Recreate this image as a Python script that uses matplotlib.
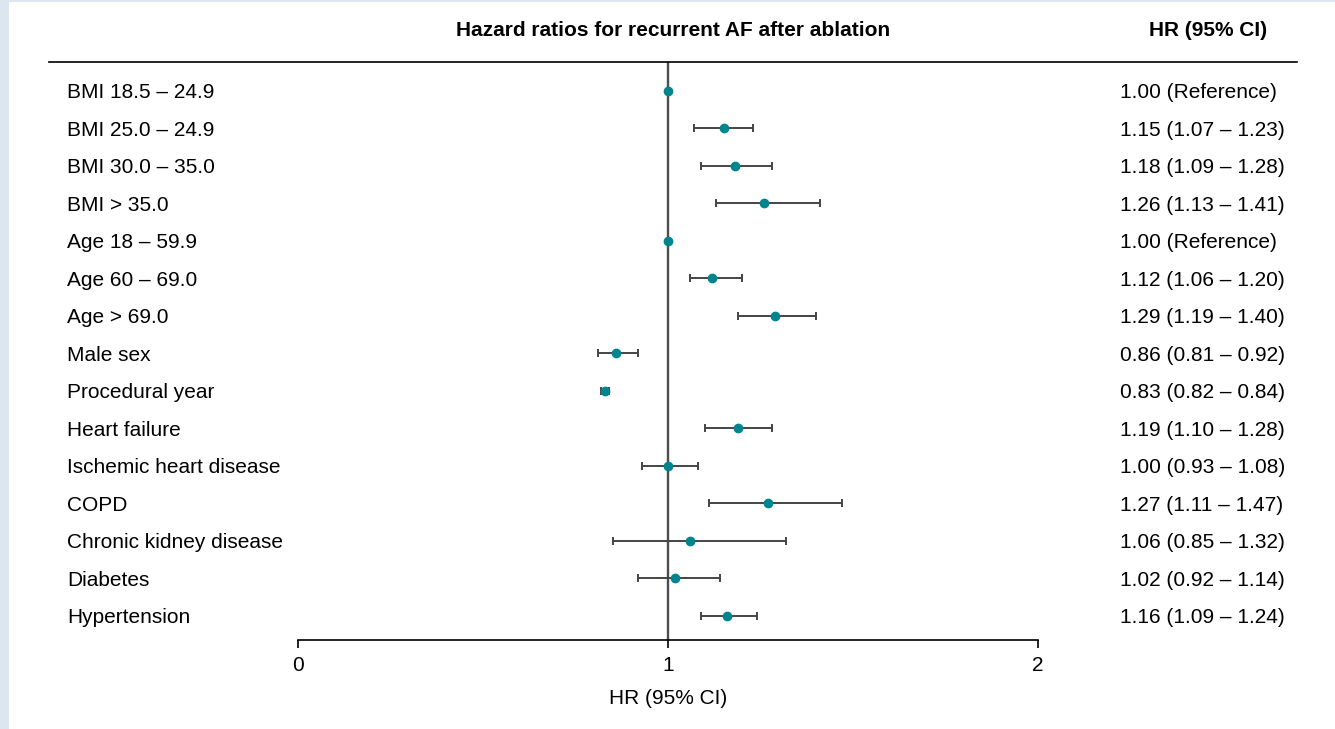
import matplotlib
matplotlib.use("Agg")
import matplotlib.pyplot as plt
from matplotlib.lines import Line2D
from matplotlib.patches import Rectangle
import matplotlib.transforms as mtransforms

plt.rcParams['font.family'] = ['Liberation Sans', 'DejaVu Sans']

# data
labels = [
    'BMI 18.5 – 24.9', 'BMI 25.0 – 24.9', 'BMI 30.0 – 35.0', 'BMI > 35.0',
    'Age 18 – 59.9', 'Age 60 – 69.0', 'Age > 69.0', 'Male sex',
    'Procedural year', 'Heart failure', 'Ischemic heart disease', 'COPD',
    'Chronic kidney disease', 'Diabetes', 'Hypertension'
]
hr = [1.00, 1.15, 1.18, 1.26, 1.00, 1.12, 1.29, 0.86, 0.83, 1.19, 1.00,
      1.27, 1.06, 1.02, 1.16]
ci_low = [None, 1.07, 1.09, 1.13, None, 1.06, 1.19, 0.81, 0.82, 1.10, 0.93,
          1.11, 0.85, 0.92, 1.09]
ci_high = [None, 1.23, 1.28, 1.41, None, 1.20, 1.40, 0.92, 0.84, 1.28, 1.08,
           1.47, 1.32, 1.14, 1.24]
hr_text = [
    '1.00 (Reference)', '1.15 (1.07 – 1.23)', '1.18 (1.09 – 1.28)',
    '1.26 (1.13 – 1.41)', '1.00 (Reference)', '1.12 (1.06 – 1.20)',
    '1.29 (1.19 – 1.40)', '0.86 (0.81 – 0.92)', '0.83 (0.82 – 0.84)',
    '1.19 (1.10 – 1.28)', '1.00 (0.93 – 1.08)', '1.27 (1.11 – 1.47)',
    '1.06 (0.85 – 1.32)', '1.02 (0.92 – 1.14)', '1.16 (1.09 – 1.24)'
]
xticks = [0, 1, 2]

W, H = 1335, 729
fs = 15
fig = plt.figure(figsize=(W / 100, H / 100), dpi=100)
fig.patch.set_facecolor('#dce6f0')
# white panel
fig.add_artist(Rectangle((9 / W, 0), 1, 1 - 2 / H, transform=fig.transFigure,
                         facecolor='white', edgecolor='none', zorder=0))

ax = fig.add_axes([298 / W, (H - 640) / H, (1038 - 298) / W, (640 - 62) / H])
ax.set_facecolor('none')

teal = '#00858f'
dark = '#444444'
n = len(labels)
for i in range(n):
    if ci_low[i] is not None:
        ax.errorbar(hr[i], i, xerr=[[hr[i] - ci_low[i]], [ci_high[i] - hr[i]]],
                    fmt='none', ecolor=dark, elinewidth=1.4, capsize=3,
                    capthick=1.4, zorder=3)
    ax.plot(hr[i], i, 'o', color=teal, markersize=6, zorder=4)

ax.axvline(1, color='#4d4d4d', lw=1.7, zorder=2)

ax.set_xlim(0, 2)
ax.set_ylim(14.65, -0.774)
for s in ['top', 'left', 'right']:
    ax.spines[s].set_visible(False)
ax.spines['bottom'].set_linewidth(1.2)
ax.set_yticks([])
ax.set_xticks(xticks)
ax.set_xticklabels([str(t) for t in xticks])
ax.tick_params(axis='x', direction='out', length=5.8, width=1.2,
               labelsize=fs, pad=5.5)
ax.set_xlabel('HR (95% CI)', fontsize=fs, labelpad=10)

# row labels and HR text (baseline sits half a cap height below row centre)
tr = mtransforms.blended_transform_factory(fig.transFigure, ax.transData)
off = 0.2
for i in range(n):
    ax.text(67 / W, i + off, labels[i], transform=tr, ha='left',
            va='baseline', fontsize=fs)
    ax.text(1120 / W, i + off, hr_text[i], transform=tr, ha='left',
            va='baseline', fontsize=fs)

# headers
fig.text(673 / W, 1 - 36.5 / H, 'Hazard ratios for recurrent AF after ablation',
         ha='center', va='baseline', fontsize=fs, fontweight='bold')
fig.text(1208.5 / W, 1 - 36.5 / H, 'HR (95% CI)', ha='center', va='baseline',
         fontsize=fs, fontweight='bold')
fig.add_artist(Line2D([49 / W, 1297 / W], [1 - 62 / H, 1 - 62 / H],
                      transform=fig.transFigure, color='black', lw=1.2))

fig.savefig('out.png', dpi=100, facecolor=fig.get_facecolor())
